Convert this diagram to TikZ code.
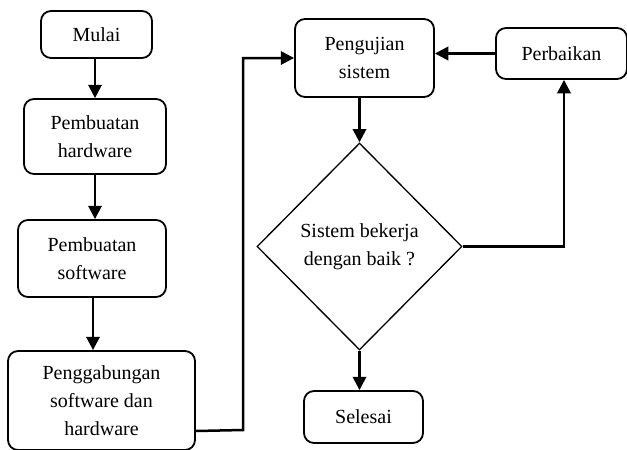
\documentclass[tikz,border=0pt]{standalone}
\usepackage{fontspec}
\setmainfont{Liberation Serif}
\usetikzlibrary{arrows.meta,shapes.geometric}
\begin{document}
\begin{tikzpicture}[x=0.6pt,y=-0.6pt,
  box/.style={draw,line width=1.1pt,rounded corners=6pt,align=center,inner sep=0pt,
    font=\fontsize{12pt}{16.8pt}\selectfont},
  dec/.style={draw,line width=0.8pt,diamond,align=center,inner sep=0pt,
    font=\fontsize{12pt}{16.8pt}\selectfont},
  arr/.style={line width=1.5pt,-{Triangle[length=8pt,width=8pt]}},
  ln/.style={line width=1.5pt}]
\useasboundingbox (0,0) rectangle (627,449);
\node[box,minimum width=66.6pt,minimum height=28.2pt] (mulai) at (96.5,34.5) {Mulai};
\node[box,minimum width=85.2pt,minimum height=45pt] (hw) at (95,136.5) {Pembuatan\\hardware};
\node[box,minimum width=88.8pt,minimum height=46.2pt] (sw) at (92,258.5) {Pembuatan\\software};
\node[box,minimum width=112.2pt,minimum height=59.4pt] (pg) at (101.5,400.5) {Penggabungan\\software dan\\hardware};
\node[box,minimum width=83.4pt,minimum height=46.8pt] (pj) at (364.5,58) {Pengujian\\sistem};
\node[box,minimum width=78.6pt,minimum height=30.6pt] (pb) at (561.5,53.5) {Perbaikan};
\node[dec,minimum width=123pt,minimum height=124.2pt] (dm) at (359.5,246.5) {Sistem bekerja\\dengan baik ?};
\node[box,minimum width=71.4pt,minimum height=31.2pt] (sl) at (363.5,417) {Selesai};
\draw[arr] (mulai.south -| 95,0) -- (hw.north -| 95,0);
\draw[arr] (hw.south -| 95,0) -- (sw.north -| 95,0);
\draw[arr] (sw.south -| 93,0) -- (pg.north -| 93,0);
\draw[arr] ([yshift=-18.3pt]pg.east) -- (243,430) |- (pj.west);
\draw[arr] (pb.west) -- (pb.west -| pj.east);
\draw[arr] (pj.south -| dm.north) -- (dm.north);
\draw[arr] (dm.east) -| (564,0 |- pb.south);
\draw[arr] (dm.south) -- (dm.south |- sl.north);
\end{tikzpicture}
\end{document}
